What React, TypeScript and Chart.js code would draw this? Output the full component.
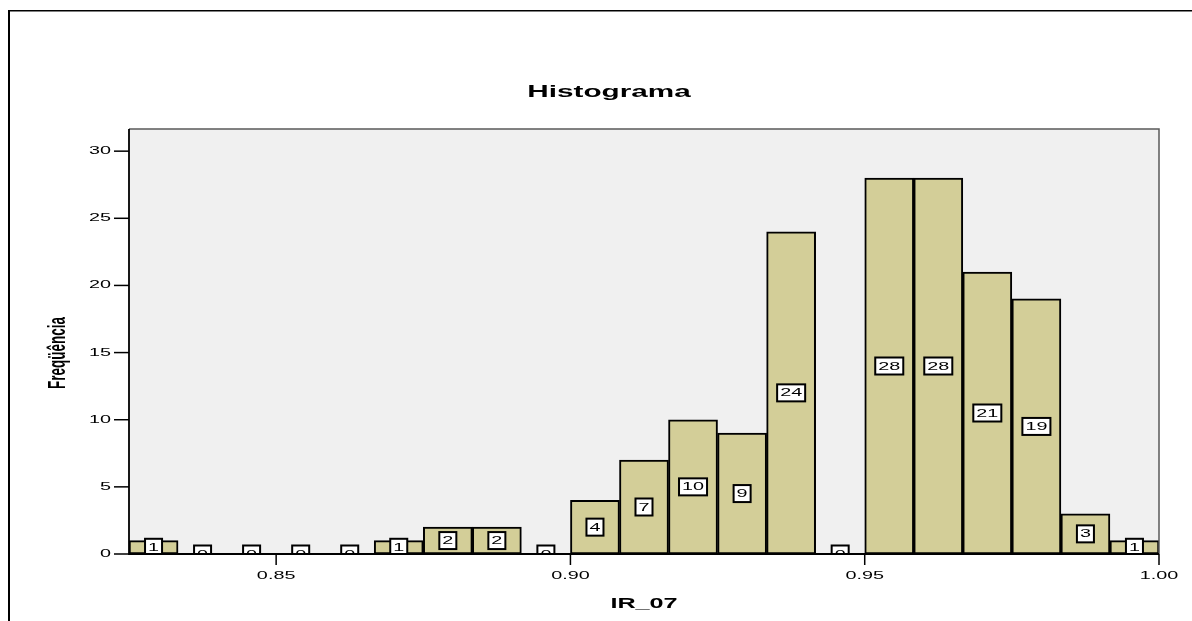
import React, { useEffect, useRef } from "react";
import { Chart, registerables } from "chart.js";

Chart.register(...registerables);

const binCenters = [
  0.82917, 0.8375, 0.84583, 0.85417, 0.8625, 0.87083, 0.87917, 0.8875, 0.89583, 0.90417,
  0.9125, 0.92083, 0.92917, 0.9375, 0.94583, 0.95417, 0.9625, 0.97083, 0.97917, 0.9875, 0.99583,
];
const frequencies = [1, 0, 0, 0, 0, 1, 2, 2, 0, 4, 7, 10, 9, 24, 0, 28, 28, 21, 19, 3, 1];
const xTicks = [0.85, 0.9, 0.95, 1.0];
const xTickLabels = ["0.85", "0.90", "0.95", "1.00"];
const yTicks = [0, 5, 10, 15, 20, 25, 30];
const yTickLabels = ["0", "5", "10", "15", "20", "25", "30"];
const chartTitle = "Histograma";
const xTitle = "IR_07";
const yTitle = "Freqüência";

const FONT = "'Liberation Sans', Arial, sans-serif";
const SX = 1.8;

function stretchText(ctx: CanvasRenderingContext2D, text: string, x: number, y: number, font: string, align: CanvasTextAlign) {
  ctx.save();
  ctx.translate(x, y);
  ctx.scale(SX, 1);
  ctx.font = font;
  ctx.fillStyle = "#000";
  ctx.textAlign = align;
  ctx.textBaseline = "middle";
  ctx.fillText(text, 0, 0);
  ctx.restore();
}

const decorPlugin = {
  id: "decor",
  beforeDatasetsDraw(chart: any) {
    const { ctx, chartArea: a } = chart;
    ctx.save();
    ctx.fillStyle = "#f0f0f0";
    ctx.fillRect(a.left, a.top, a.right - a.left, a.bottom - a.top);
    ctx.restore();
  },
  afterDatasetsDraw(chart: any) {
    const { ctx, chartArea: a } = chart;
    const xs = chart.scales.x;
    const ys = chart.scales.y;

    // value labels
    ctx.save();
    ctx.beginPath();
    ctx.rect(a.left, a.top, a.right - a.left, a.bottom - a.top);
    ctx.clip();
    const labelFont = `11px ${FONT}`;
    ctx.font = labelFont;
    frequencies.forEach((v, i) => {
      const cx = xs.getPixelForValue(binCenters[i]);
      const cy = ys.getPixelForValue(v / 2);
      const txt = String(v);
      const w = ctx.measureText(txt).width * SX + 6;
      const h = 17;
      ctx.fillStyle = "#fff";
      ctx.fillRect(cx - w / 2, cy - h / 2, w, h);
      ctx.strokeStyle = "#000";
      ctx.lineWidth = 2;
      ctx.strokeRect(cx - w / 2, cy - h / 2, w, h);
      stretchText(ctx, txt, cx, cy + 0.5, labelFont, "center");
      ctx.font = labelFont;
    });
    ctx.restore();

    // plot frame
    ctx.save();
    ctx.strokeStyle = "#5a5a5a";
    ctx.lineWidth = 1.5;
    ctx.beginPath();
    ctx.moveTo(a.left, a.top);
    ctx.lineTo(a.right, a.top);
    ctx.lineTo(a.right, a.bottom);
    ctx.stroke();
    ctx.strokeStyle = "#000";
    ctx.lineWidth = 1.8;
    ctx.beginPath();
    ctx.moveTo(a.left, a.top);
    ctx.lineTo(a.left, a.bottom);
    ctx.lineTo(a.right, a.bottom);
    ctx.stroke();

    // y ticks
    ctx.lineWidth = 1.5;
    const tickFont = `11px ${FONT}`;
    yTicks.forEach((t, i) => {
      const py = ys.getPixelForValue(t);
      ctx.beginPath();
      ctx.moveTo(a.left - 15, py);
      ctx.lineTo(a.left, py);
      ctx.stroke();
      stretchText(ctx, yTickLabels[i], a.left - 18, py, tickFont, "right");
    });
    // x ticks
    xTicks.forEach((t, i) => {
      const px = xs.getPixelForValue(t);
      ctx.beginPath();
      ctx.moveTo(px, a.bottom);
      ctx.lineTo(px, a.bottom + 11);
      ctx.stroke();
      stretchText(ctx, xTickLabels[i], px, a.bottom + 22, tickFont, "center");
    });

    // titles
    stretchText(ctx, chartTitle, 609, 92, `bold 16.5px ${FONT}`, "center");
    stretchText(ctx, xTitle, (a.left + a.right) / 2, 604, `bold 14px ${FONT}`, "center");
    ctx.save();
    ctx.translate(58, 353);
    ctx.rotate(-Math.PI / 2);
    ctx.scale(1, SX);
    ctx.font = `bold 13.5px ${FONT}`;
    ctx.fillStyle = "#000";
    ctx.textAlign = "center";
    ctx.textBaseline = "middle";
    ctx.fillText(yTitle, 0, 0);
    ctx.restore();

    // outer frame
    ctx.fillStyle = "#000";
    ctx.fillRect(8, 10, 2, 611);
    ctx.fillRect(8, 10, 1184, 1.5);
    ctx.restore();
  },
};

export default function App() {
  const ref = useRef<HTMLCanvasElement | null>(null);
  useEffect(() => {
    if (!ref.current) return;
    const chart = new Chart(ref.current, {
      type: "bar",
      data: {
        datasets: [
          {
            data: binCenters.map((c, i) => ({ x: c, y: frequencies[i] })),
            backgroundColor: "#d3ce98",
            borderColor: "#000",
            borderWidth: 2,
            borderSkipped: false,
            barPercentage: 1,
            categoryPercentage: 1,
          },
        ],
      },
      options: {
        animation: false,
        responsive: true,
        maintainAspectRatio: false,
        layout: { padding: { left: 129, right: 33, top: 129, bottom: 67 } },
        plugins: { legend: { display: false }, tooltip: { enabled: false }, title: { display: false } },
        scales: {
          x: { type: "linear", min: 0.825, max: 1.0, display: false, offset: false },
          y: { min: 0, max: 31.65, display: false },
        },
      },
      plugins: [decorPlugin],
    });
    return () => chart.destroy();
  }, []);
  return (
    <div style={{ position: "absolute", left: 0, top: 0, width: 1192, height: 621 }}>
      <canvas ref={ref} />
    </div>
  );
}
